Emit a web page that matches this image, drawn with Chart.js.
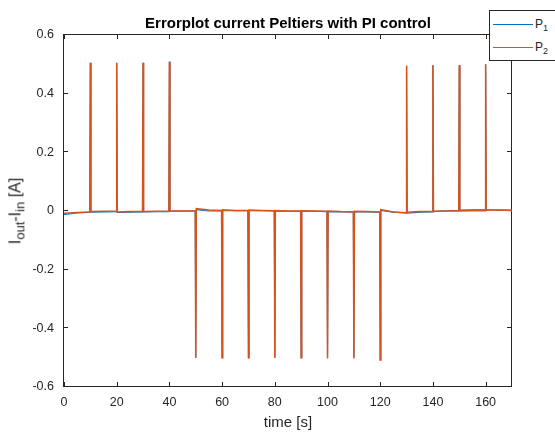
<!DOCTYPE html>
<html lang="en">
<head>
<meta charset="UTF-8" />
<title>Errorplot current Peltiers with PI control</title>
<script src="https://cdn.jsdelivr.net/npm/chart.js@4.4.0/dist/chart.umd.min.js"></script>
<style>
	body { margin:0; background:#fff; }
	#wrap { position:relative; width:555px; height:432px; overflow:hidden; font-family:"Liberation Sans", Arial, sans-serif; color:#262626; }
	#chart { position:absolute; left:0; top:0; }
	#title { position:absolute; left:64px; top:15px; width:448px; text-align:center; font-size:15px; line-height:15px; font-weight:bold; color:#000; white-space:nowrap; }
	#ylabel { position:absolute; left:18px; top:211px; transform:translate(-50%,-50%) rotate(-90deg); font-size:16px; line-height:16px; white-space:nowrap; }
	#ylabel sub { font-size:13px; }
	#legend { position:absolute; left:489px; top:10px; width:90px; height:49px; border:1px solid #262626; background:#fff; font-size:12px; line-height:12px; }
	#legend .ln { position:absolute; left:3px; width:40px; height:1px; }
	#legend .lt { position:absolute; left:45px; white-space:nowrap; }
	#legend sub { font-size:9px; }
</style>
</head>
<body>
<div id="wrap">
	<canvas id="chart" width="555" height="432"></canvas>
	<div id="title">Errorplot current Peltiers with PI control</div>
	<div id="ylabel">I<sub>out</sub>-I<sub>in</sub> [A]</div>
	<div id="legend">
		<span class="ln" style="top:13px;background:#0072BD"></span>
		<span class="lt" style="top:7px">P<sub>1</sub></span>
		<span class="ln" style="top:36px;background:#D95319"></span>
		<span class="lt" style="top:30px">P<sub>2</sub></span>
	</div>
</div>
<script>
	// sample times [s], shared by both peltiers
	const timeS = [0, 2, 5, 9.8, 10, 10.2, 15, 19.8, 20, 20.2, 25, 29.8, 30, 30.2, 35, 39.8, 40, 40.2, 45, 49.8,
		50, 50.2, 55, 59.8, 60, 60.2, 65, 69.8, 70, 70.2, 75, 79.8, 80, 80.2, 85, 89.8, 90, 90.2, 95, 99.8,
		100, 100.2, 105, 109.8, 110, 110.2, 115, 119.8, 120, 120.2, 125, 129.8, 130, 130.2, 135, 139.8,
		140, 140.2, 145, 149.8, 150, 150.2, 155, 159.8, 160, 160.2, 165, 170];

	// Iout - Iin [A]
	const p1Err = [-0.012, -0.010, -0.007, -0.004, 0.505, -0.004, -0.003, -0.002, 0.505, -0.005, -0.004, -0.003, 0.505, -0.003, -0.002, -0.002, 0.510, -0.001, 0.000, 0.000,
		-0.500, 0.004, 0.000, 0.001, -0.500, 0.001, 0.001, 0.001, -0.500, 0.001, 0.001, 0.000, -0.500, 0.000, -0.001, -0.001, -0.500, -0.001, -0.001, -0.002,
		-0.502, -0.002, -0.003, -0.003, -0.502, -0.003, -0.003, -0.004, -0.508, 0.002, -0.004, -0.007, 0.495, -0.007, -0.004, -0.003,
		0.497, -0.002, 0.001, 0.002, 0.497, 0.003, 0.004, 0.004, 0.500, 0.004, 0.003, 0.003];

	const p2Err = [-0.008, -0.007, -0.005, -0.003, 0.505, -0.002, -0.001, 0.000, 0.505, -0.003, -0.002, -0.001, 0.505, -0.002, -0.001, -0.001, 0.508, 0.000, 0.000, 0.000,
		-0.500, 0.008, 0.003, 0.002, -0.500, 0.004, 0.002, 0.002, -0.500, 0.003, 0.002, 0.001, -0.500, 0.002, 0.000, 0.000, -0.500, 0.001, 0.000, -0.001,
		-0.502, 0.000, -0.002, -0.003, -0.502, -0.001, -0.002, -0.003, -0.508, 0.005, -0.003, -0.006, 0.495, -0.004, -0.002, -0.002,
		0.497, -0.001, 0.000, 0.000, 0.497, 0.000, 0.001, 0.001, 0.500, 0.003, 0.003, 0.002];

	const xTicks = [0, 20, 40, 60, 80, 100, 120, 140, 160];
	const yTicks = [-0.6, -0.4, -0.2, 0, 0.2, 0.4, 0.6];

	const blue = '#0072BD';
	const orange = '#D95319';
	const axisCol = '#262626';
	const fam = '"Liberation Sans", Arial, sans-serif';

	//box round the axes with inward ticks, like matlab
	const boxAxes = {
		id: 'boxAxes',
		beforeDatasetsDraw(chart) {
			const ctx = chart.ctx;
			const a = chart.chartArea;
			const xs = chart.scales.x, ys = chart.scales.y;
			const L = Math.round(a.left) - 0.5, R = Math.round(a.right) - 0.5;
			const T = Math.round(a.top) - 0.5, B = Math.round(a.bottom) - 0.5;
			const tl = 4.5;
			ctx.save();
			ctx.strokeStyle = axisCol;
			ctx.lineWidth = 1;
			ctx.strokeRect(L, T, R - L, B - T);
			ctx.beginPath();
			xTicks.forEach(v => {
				const px = Math.round(xs.getPixelForValue(v)) + 0.5;
				ctx.moveTo(px, B); ctx.lineTo(px, B - tl);
				ctx.moveTo(px, T); ctx.lineTo(px, T + tl);
			});
			yTicks.forEach(v => {
				const py = Math.round(ys.getPixelForValue(v)) - 0.5;
				ctx.moveTo(L, py); ctx.lineTo(L + tl, py);
				ctx.moveTo(R, py); ctx.lineTo(R - tl, py);
			});
			ctx.stroke();
			ctx.restore();
		}
	};

	let chart = new Chart(document.getElementById('chart'), {
		type: 'line',
		data: {
			datasets: [{
				label: 'P1',
				data: timeS.map((t, i) => ({x: t, y: p1Err[i]})),
				borderColor: blue,
				borderWidth: 1.1,
				order: 1
			}, {
				label: 'P2',
				data: timeS.map((t, i) => ({x: t, y: p2Err[i]})),
				borderColor: orange,
				borderWidth: 1.5,
				order: 0
			}]
		},
		options: {
			responsive: false,
			animation: false,
			devicePixelRatio: 1,
			layout: {padding: {left: 0, right: 43, top: 35, bottom: 0}},
			elements: {
				point: {radius: 0},
				line: {tension: 0}
			},
			scales: {
				x: {
					type: 'linear', min: 0, max: 170,
					grid: {display: false, drawTicks: false},
					border: {display: false},
					ticks: {stepSize: 20, includeBounds: false, padding: 8, color: axisCol, font: {family: fam, size: 12.5}, maxRotation: 0},
					title: {display: true, text: 'time [s]', color: axisCol, font: {family: fam, size: 15}, padding: {top: 0, bottom: 0}},
					afterFit(s) { s.height = 45; }
				},
				y: {
					min: -0.6, max: 0.6,
					grid: {display: false, drawTicks: false},
					border: {display: false},
					ticks: {stepSize: 0.2, padding: 10, color: axisCol, font: {family: fam, size: 12.5},
						callback: v => Math.abs(v) < 1e-9 ? '0' : v.toFixed(1)},
					afterFit(s) { s.width = 64; }
				}
			},
			plugins: {
				legend: {display: false},
				tooltip: {enabled: false},
				title: {display: false}
			}
		},
		plugins: [boxAxes]
	});
</script>
</body>
</html>
